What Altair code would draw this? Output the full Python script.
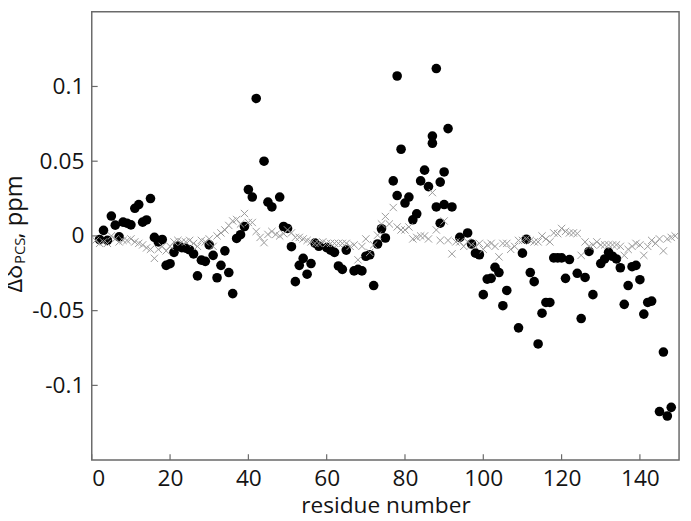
import altair as alt
import pandas as pd

# ---- data ----
circle_res = [2, 3, 4, 5, 6, 7, 8, 9, 10, 11, 12, 13, 14, 15, 16, 17, 18, 19, 20,
              21, 22, 23, 24, 25, 26, 27, 28, 29, 30, 31, 32, 33, 34, 35, 36, 37, 38,
              39, 40, 41, 42, 44, 45, 46, 48, 49, 50, 51, 52, 53, 54, 55, 56, 57, 58,
              60, 61, 62, 63, 64, 65, 67, 68, 69, 70, 71, 72, 73, 74, 75, 77, 78, 78,
              79, 80, 81, 82, 83, 84, 85, 86, 87, 87, 88, 88, 89, 89, 90, 90, 91, 92,
              94, 96, 97, 98, 99, 100, 101, 102, 103, 104, 105, 106, 109, 110, 111,
              112, 113, 114, 115, 116, 117, 118, 119, 120, 121, 122, 124, 125, 126,
              127, 128, 130, 131, 132, 133, 134, 135, 136, 137, 138, 139, 140, 141,
              142, 143, 145, 146, 147, 148]
circle_val = [-0.0024, 0.0037, -0.003, 0.0133, 0.0072, -0.0006, 0.0092, 0.0085, 0.0074,
              0.0185, 0.021, 0.0092, 0.0107, 0.025, -0.001, -0.004, -0.0024, -0.0197,
              -0.0186, -0.011, -0.0067, -0.0078, -0.0082, -0.0093, -0.012, -0.0267,
              -0.0162, -0.017, -0.006, -0.013, -0.028, -0.0197, -0.010, -0.0245, -0.0386,
              -0.0017, 0.0008, 0.0063, 0.031, 0.026, 0.092, 0.050, 0.0226, 0.0194, 0.026,
              0.0063, 0.0050, -0.0072, -0.0306, -0.0197, -0.0150, -0.0256, -0.0185,
              -0.0048, -0.0069, -0.0078, -0.0095, -0.011, -0.0201, -0.0224, -0.0095,
              -0.0234, -0.0224, -0.0234, -0.0136, -0.0126, -0.0332, -0.0054, 0.0048,
              -0.0014, 0.0368, 0.107, 0.027, 0.058, 0.022, 0.026, 0.0108, 0.0148, 0.0368,
              0.044, 0.033, 0.0668, 0.062, 0.112, 0.0194, 0.036, 0.0085, 0.0428, 0.021,
              0.0718, 0.0194, -0.001, 0.002, -0.0054, -0.0115, -0.0126, -0.0393, -0.0289,
              -0.0284, -0.021, -0.0245, -0.0467, -0.0365, -0.0615, -0.0115, -0.0023,
              -0.0245, -0.0306, -0.0723, -0.0517, -0.0445, -0.0445, -0.0147, -0.0147,
              -0.0147, -0.0284, -0.0158, -0.025, -0.0553, -0.0278, -0.0104, -0.0393,
              -0.0185, -0.0154, -0.011, -0.0136, -0.0154, -0.0213, -0.0458, -0.0332,
              -0.0206, -0.0197, -0.0293, -0.0523, -0.0445, -0.0436, -0.1175, -0.0777,
              -0.1205, -0.1147]

cross_res = list(range(1, 150))
cross_val = [-0.003, -0.005, -0.004, -0.005, 0.000, -0.002, -0.004, -0.003, -0.003, -0.002,
             -0.004, -0.005, -0.006, -0.008, -0.009, -0.015, -0.009, -0.007, -0.010, -0.007,
             -0.004, -0.003, -0.004, -0.004, -0.003, -0.005, -0.007, -0.003, -0.004, -0.002,
             -0.007, 0.000, 0.002, 0.004, 0.007, 0.010, 0.011, 0.008, 0.015, 0.009,
             0.009, 0.003, -0.001, -0.0045, 0.001, 0.003, 0.001, 0.000, 0.0015, 0.004,
             0.002, -0.001, -0.001, -0.002, -0.003, -0.004, -0.005, -0.005, -0.004, -0.005,
             -0.005, -0.005, -0.005, -0.005, -0.005, -0.007, -0.006, -0.016, -0.007, -0.002,
             -0.011, -0.006, 0.0005, 0.008, 0.013, 0.008, 0.019, 0.006, 0.004, 0.004,
             0.006, -0.002, -0.001, 0.000, 0.000, -0.002, 0.029, 0.004, -0.003, 0.010,
             -0.003, -0.012, -0.004, -0.004, -0.007, -0.004, -0.006, -0.007, -0.005, -0.009,
             -0.006, -0.005, -0.007, -0.014, -0.005, -0.005, -0.009, -0.007, -0.003, -0.003,
             -0.002, -0.003, -0.004, -0.004, 0.000, -0.002, -0.004, 0.002, 0.0015, 0.005,
             0.003, 0.002, 0.002, 0.0016, -0.013, -0.004, -0.007, -0.006, -0.004, -0.006,
             -0.006, -0.006, -0.006, -0.006, -0.007, -0.013, -0.009, -0.007, -0.005, -0.006,
             -0.013, -0.007, -0.003, -0.005, -0.002, -0.010, -0.002, -0.001, 0.000]

x_ticks = [0, 20, 40, 60, 80, 100, 120, 140]
y_ticks = [-0.1, -0.05, 0, 0.05, 0.1]

# ---- chart ----
W, H = 596, 455
FONT = "Open Sans"
TXT = "#141414"
FRAME = "#6a6a6a"

circles = pd.DataFrame({"res": circle_res, "val": circle_val})
crosses = pd.DataFrame({"res": cross_res, "val": cross_val})
xtick_df = pd.DataFrame({"res": x_ticks})
ytick_df = pd.DataFrame({"val": y_ticks})

xs = alt.Scale(domain=[0, 150], nice=False, zero=False)
ys = alt.Scale(domain=[-0.15, 0.15], nice=False, zero=False)

x_axis = alt.Axis(values=x_ticks, title="residue number", tickSize=0, domain=False,
                  grid=False, labelFont=FONT, labelFontSize=23, labelColor=TXT,
                  labelPadding=8, titleFont=FONT, titleFontSize=23,
                  titleFontWeight="normal", titleColor=TXT, titlePadding=4)
y_axis = alt.Axis(values=y_ticks, title="", tickSize=0, domain=False, grid=False,
                  labelFont=FONT, labelFontSize=23, labelColor=TXT, labelPadding=8,
                  titlePadding=0, labelExpr="toString(datum.value)")

X = alt.X("res:Q", scale=xs, axis=x_axis)
Y = alt.Y("val:Q", scale=ys, axis=y_axis)

circ = alt.Chart(circles).mark_circle(size=95, color="black", opacity=1).encode(x=X, y=Y)

cross_path = "M-1,-1L1,1M-1,1L1,-1"
crs = alt.Chart(crosses).mark_point(shape=cross_path, size=55, color="#9a9a9a",
                                    filled=False, strokeWidth=1, opacity=1).encode(x=X, y=Y)

ytick_rules = alt.Chart(ytick_df).mark_rule(color=FRAME, strokeWidth=1.2).encode(
    y=Y, x=alt.value(0), x2=alt.value(6))
xtick_rules = alt.Chart(xtick_df).mark_rule(color=FRAME, strokeWidth=1.2).encode(
    x=X, y=alt.value(H), y2=alt.value(H - 6))

def ytitle_piece(s, y, size, xoff):
    return alt.Chart(pd.DataFrame({"s": [s]})).mark_text(
        angle=270, align="left", baseline="alphabetic", font=FONT,
        fontSize=size, color=TXT).encode(
        text="s:N", x=alt.value(xoff), y=alt.value(y))

t1 = ytitle_piece("Δδ", 285, 24, -71)
t2 = ytitle_piece("PCS", 256, 15, -68)
t3 = ytitle_piece(", ppm", 230, 24, -71)

chart = alt.layer(circ, crs, ytick_rules, xtick_rules, t1, t2, t3).properties(
    width=W, height=H,
    autosize=alt.AutoSizeParams(type="none"),
    padding={"left": 85, "top": 0, "right": 4, "bottom": 58},
).configure_view(stroke=FRAME, strokeWidth=1.5)

chart.save("out.html", embed_options={"renderer": "svg", "actions": False})
